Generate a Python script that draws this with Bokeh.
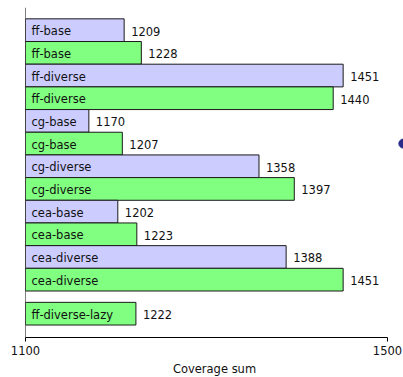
from bokeh.plotting import figure
from bokeh.models import Range1d, FixedTicker, Span, ColumnDataSource
from bokeh.core.properties import value
from bokeh.embed import file_html
from bokeh.resources import INLINE

# ---- data ----
methods = ["ff-base", "ff-diverse", "cg-base", "cg-diverse", "cea-base", "cea-diverse"]
series_a = [1209, 1451, 1170, 1358, 1202, 1388]   # blue bars
series_b = [1228, 1440, 1207, 1397, 1223, 1451]   # green bars
extra_labels = ["ff-diverse-lazy"]
extra_values = [1222]                              # green bar
x_ticks = [1100, 1500]
x_title = "Coverage sum"
legend_marker_x = [1517.5]
legend_marker_y = [6.0]

BASE = 1100
FONT = "DejaVu Sans"
BLUE = "#ccccff"
GREEN = "#80ff80"

# build rows in drawing order (paired per method, then a gap, then extra)
labels, vals, colors, ys = [], [], [], []
pos = 1.0
for m, a, b in zip(methods, series_a, series_b):
    labels += [m, m]
    vals += [a, b]
    colors += [BLUE, GREEN]
    ys += [pos, pos + 1]
    pos += 2
pos += 0.5
for l, v in zip(extra_labels, extra_values):
    labels.append(l)
    vals.append(v)
    colors.append(GREEN)
    ys.append(pos)
    pos += 1
y_end = pos + 0.05  # bottom padding (half slot)

src = ColumnDataSource(dict(label=labels, val=vals, color=colors, y=ys,
                            base=[BASE] * len(vals),
                            vtext=[str(v) for v in vals]))

frame_w = 403 - 25
x_end = BASE + frame_w * (1500 - 1100) / 362.0

p = figure(width=403, height=377, frame_width=frame_w, frame_height=330,
           output_backend="svg", toolbar_location=None,
           x_range=Range1d(BASE, x_end), y_range=Range1d(y_end, 0),
           min_border_left=25, min_border_right=0, min_border_top=7,
           min_border_bottom=40)

p.hbar(y="y", left="base", right="val", height=1.0, fill_color="color",
       line_color="#1a1a1a", line_width=1, source=src)

p.text(x="base", y="y", text="label", source=src, x_offset=6, y_offset=1,
       text_baseline="middle", text_align="left", text_font=value(FONT),
       text_font_size="11.5px", text_color="#111111")
p.text(x="val", y="y", text="vtext", source=src, x_offset=7, y_offset=1,
       text_baseline="middle", text_align="left", text_font=value(FONT),
       text_font_size="11.5px", text_color="#111111")

p.scatter(x=legend_marker_x, y=legend_marker_y, size=9, marker="circle",
          fill_color="#2a2a8a", line_color="#2a2a8a")

p.add_layout(Span(location=BASE, dimension="height", line_color="black", line_width=1))

p.yaxis.visible = False
p.xgrid.visible = False
p.ygrid.visible = False
p.outline_line_color = None

ax = p.xaxis[0]
ax.ticker = FixedTicker(ticks=x_ticks)
ax.bounds = (1100, 1500)
ax.axis_line_color = "black"
ax.major_tick_out = 4
ax.major_tick_in = 0
ax.minor_tick_line_color = None
ax.major_label_standoff = 4
ax.major_label_text_font = FONT
ax.major_label_text_font_size = "11.5px"
ax.major_label_text_color = "#111111"
ax.axis_label = x_title
ax.axis_label_standoff = 4
ax.axis_label_text_font = FONT
ax.axis_label_text_font_size = "11.5px"
ax.axis_label_text_font_style = "normal"
ax.axis_label_text_color = "#111111"

open("out.html", "w").write(file_html(p, INLINE))
